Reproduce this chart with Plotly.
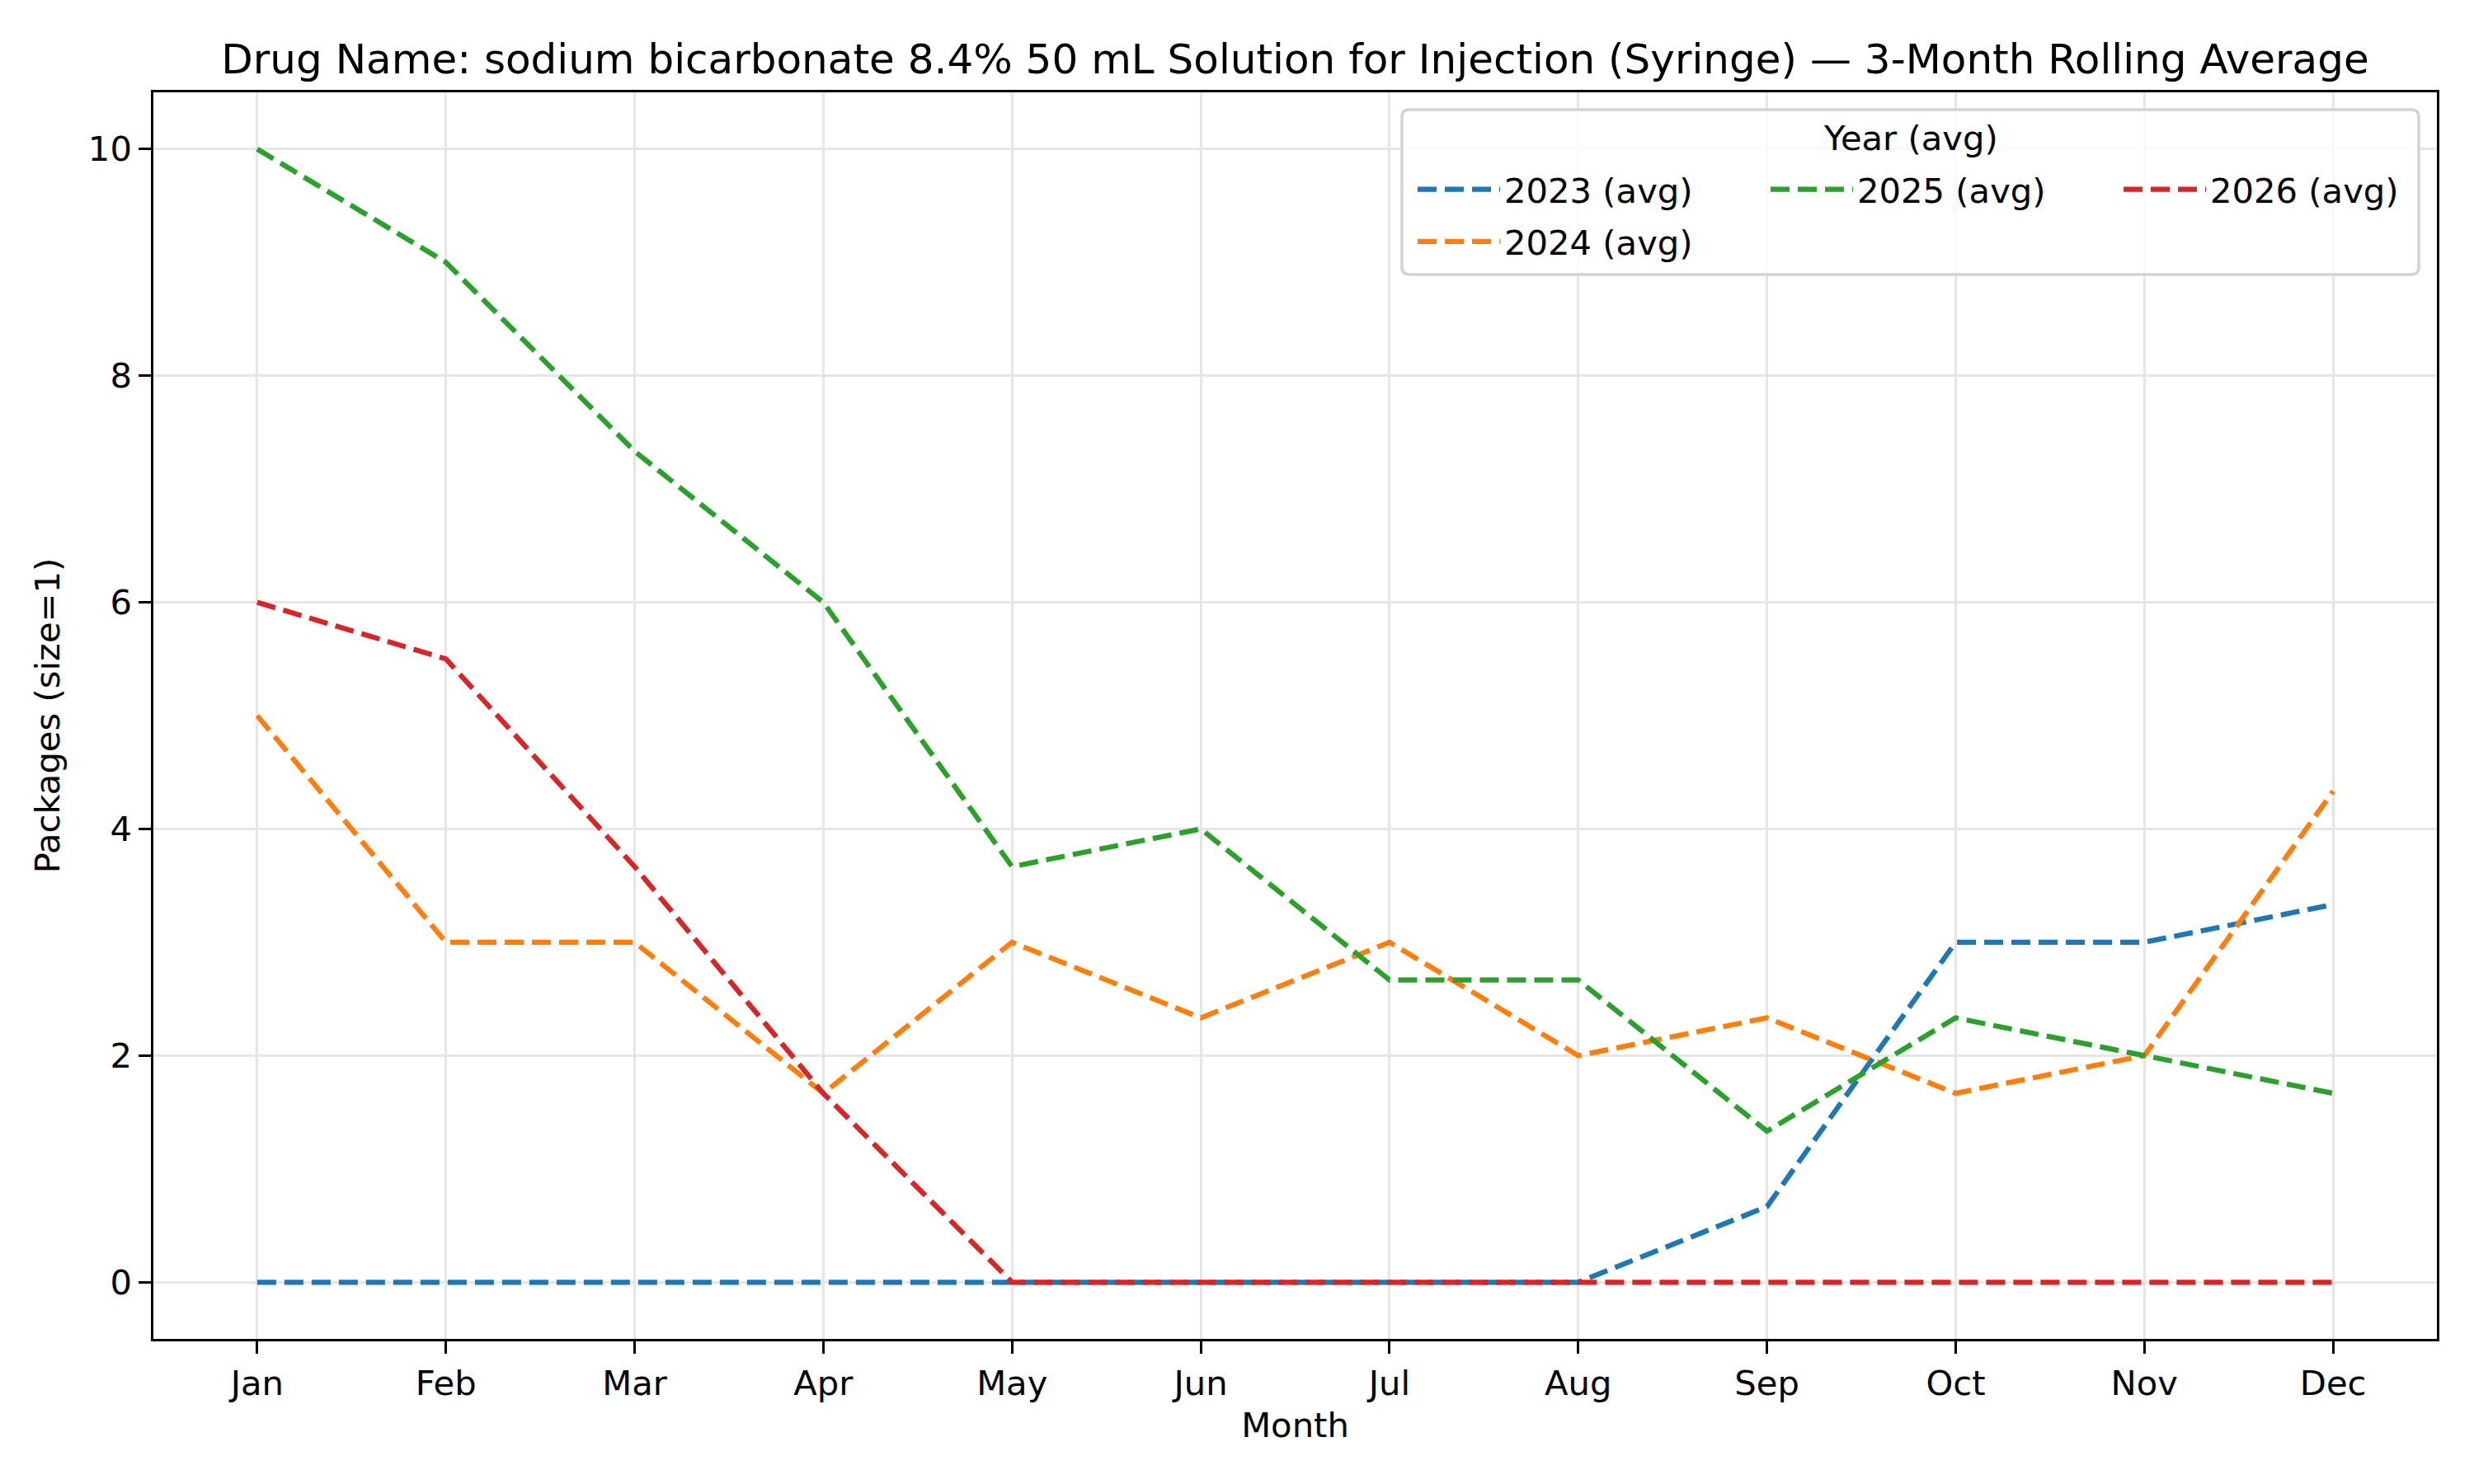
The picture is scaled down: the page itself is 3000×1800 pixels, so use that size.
import plotly.graph_objects as go

months = ["Jan", "Feb", "Mar", "Apr", "May", "Jun", "Jul", "Aug", "Sep", "Oct", "Nov", "Dec"]
avg_2023 = [0, 0, 0, 0, 0, 0, 0, 0, 0.667, 3.0, 3.0, 3.333]
avg_2024 = [5.0, 3.0, 3.0, 1.667, 3.0, 2.333, 3.0, 2.0, 2.333, 1.667, 2.0, 4.333]
avg_2025 = [10.0, 9.0, 7.333, 6.0, 3.667, 4.0, 2.667, 2.667, 1.333, 2.333, 2.0, 1.667]
avg_2026 = [6.0, 5.5, 3.667, 1.667, 0, 0, 0, 0, 0, 0, 0, 0]
y_ticks = [0, 2, 4, 6, 8, 10]

series = [
    ("2023 (avg)", avg_2023, "#1f77b4", "legend"),
    ("2024 (avg)", avg_2024, "#ff7f0e", "legend"),
    ("2025 (avg)", avg_2025, "#2ca02c", "legend2"),
    ("2026 (avg)", avg_2026, "#d62728", "legend3"),
]

W, H = 3000, 1800
L, R, T, B = 186, 45, 112, 176
pw, ph = W - L - R, H - T - B
FONT = "DejaVu Sans"
FS = 41.7

def px_x(p):
    return (p - L) / pw

def px_y(p):
    return (H - B - p) / ph

fig = go.Figure()
xs = list(range(len(months)))
for name, vals, color, lg in series:
    fig.add_trace(go.Scatter(
        x=xs, y=vals, mode="lines", name=name,
        line=dict(color=color, width=6.25, dash="23px,10px"),
        legend=lg, legendgroup=name, showlegend=True,
    ))

# legend frame (rounded)
x0, x1 = px_x(1700), px_x(2933)
y0, y1 = px_y(333), px_y(133)
rx, ry = 9 / pw, 9 / ph
path = (f"M {x0+rx},{y1} L {x1-rx},{y1} Q {x1},{y1} {x1},{y1-ry} "
        f"L {x1},{y0+ry} Q {x1},{y0} {x1-rx},{y0} L {x0+rx},{y0} "
        f"Q {x0},{y0} {x0},{y0+ry} L {x0},{y1-ry} Q {x0},{y1} {x0+rx},{y1} Z")
fig.add_shape(type="path", path=path, xref="paper", yref="paper",
              line=dict(color="#d3d3d3", width=3.5),
              fillcolor="rgba(255,255,255,0.8)", layer="above")

fig.add_annotation(text="Year (avg)", xref="paper", yref="paper",
                   x=px_x(2317), y=px_y(167), xanchor="center", yanchor="middle",
                   showarrow=False, font=dict(family=FONT, size=FS, color="black"))

legend_common = dict(
    font=dict(family=FONT, size=FS, color="black"),
    bgcolor="rgba(0,0,0,0)", borderwidth=0,
    xanchor="left", yanchor="top", orientation="v",
    itemwidth=100, tracegroupgap=6, traceorder="grouped", itemclick=False,
)

LEG_TOP = 196
fig.update_layout(
    width=W, height=H,
    margin=dict(l=L, r=R, t=T, b=B, autoexpand=False),
    paper_bgcolor="white", plot_bgcolor="white",
    font=dict(family=FONT, size=FS, color="black"),
    title=dict(
        text="Drug Name: sodium bicarbonate 8.4% 50 mL Solution for Injection (Syringe) — 3-Month Rolling Average",
        x=0.5, xref="paper", xanchor="center",
        y=1 - 71 / H, yref="container", yanchor="middle",
        font=dict(family=FONT, size=50, color="black"),
    ),
    xaxis=dict(
        range=[-0.55, 11.55], tickmode="array", tickvals=xs, ticktext=months,
        showgrid=True, gridcolor="#e6e6e6", gridwidth=3,
        showline=True, linecolor="black", linewidth=3.3, mirror=True,
        ticks="outside", ticklen=14.6, tickwidth=3.3, tickcolor="black",
        zeroline=False,
        tickfont=dict(family=FONT, size=FS, color="black"),
        title=dict(text="Month", standoff=14, font=dict(family=FONT, size=FS, color="black")),
    ),
    yaxis=dict(
        range=[-0.5, 10.5], tickmode="array", tickvals=y_ticks,
        ticktext=[str(v) for v in y_ticks],
        showgrid=True, gridcolor="#e6e6e6", gridwidth=3,
        showline=True, linecolor="black", linewidth=3.3, mirror=True,
        ticks="outside", ticklen=14.6, tickwidth=3.3, tickcolor="black",
        zeroline=False,
        tickfont=dict(family=FONT, size=FS, color="black"),
        title=dict(text="Packages (size=1)", standoff=22, font=dict(family=FONT, size=FS, color="black")),
    ),
    legend=dict(x=px_x(1714), y=px_y(LEG_TOP), **legend_common),
    legend2=dict(x=px_x(2142), y=px_y(LEG_TOP), **legend_common),
    legend3=dict(x=px_x(2570), y=px_y(LEG_TOP), **legend_common),
    showlegend=True,
)

fig.write_html("out.html")
